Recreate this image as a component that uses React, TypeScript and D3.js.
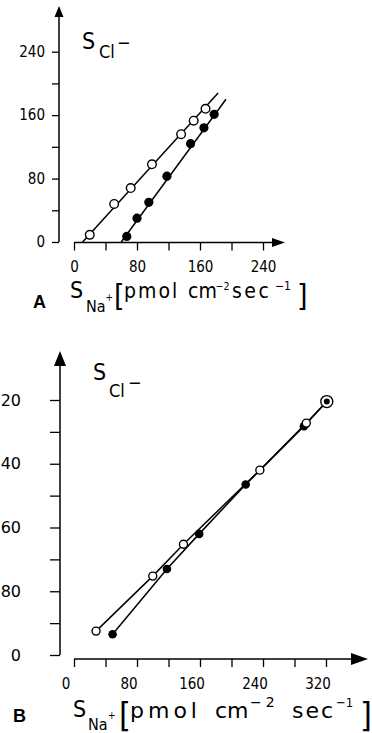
import React, { useEffect, useRef } from 'react';
import * as d3 from 'd3';

// Panel A: S_Cl- vs S_Na+ (regression lines)
const aOpenX = [20, 51, 72, 99, 136, 152, 167];
const aOpenY = [9, 48, 68, 98, 136, 153, 168];
const aFilledX = [67, 80, 95, 118, 148, 165, 178];
const aFilledY = [7, 30, 50, 83, 124, 144, 161];
const aOpenFitX = [11, 183];
const aOpenFitY = [0, 188];
const aFilledFitX = [60, 193];
const aFilledFitY = [0, 180];
const aTicks = [0, 40, 80, 120, 160, 200, 240];
const aLabels = [0, 80, 160, 240];

// Panel B: connected points
const bOpenX = [28, 100, 139, 236, 295, 321];
const bOpenY = [30, 99, 139, 232, 291, 318];
const bFilledX = [49, 118, 159, 218, 292, 321];
const bFilledY = [26, 108, 152, 214, 287, 318];
const bTicks = [0, 40, 80, 120, 160, 200, 240, 280, 320];
const bLabels = [0, 80, 160, 240, 320];

const FONT = '"DejaVu Sans Condensed", "DejaVu Sans", sans-serif';
const WIDE = '"DejaVu Sans", sans-serif';

type Pt = [number, number];
const zip = (xs: number[], ys: number[]): Pt[] => xs.map((x, i) => [x, ys[i]]);

const App: React.FC = () => {
  const ref = useRef<SVGSVGElement>(null);

  useEffect(() => {
    if (!ref.current) return;
    const svg = d3.select(ref.current);
    svg.selectAll('*').remove();

    svg.append('rect').attr('width', 372).attr('height', 733).attr('fill', '#fff');

    const txt = (x: number, y: number, s: string, size: number, extra: Record<string, any> = {}) => {
      const t = svg.append('text')
        .attr('x', x).attr('y', y)
        .attr('font-family', FONT)
        .attr('font-size', size)
        .attr('fill', '#000')
        .text(s);
      Object.entries(extra).forEach(([k, v]) => t.attr(k, v));
      return t;
    };

    // ---------- Panel A ----------
    const xA = d3.scaleLinear().domain([0, 240]).range([74, 263]);
    const yA = d3.scaleLinear().domain([0, 240]).range([242, 51.7]);

    // y axis
    const gyA = svg.append('g').attr('transform', 'translate(59,0)')
      .call(d3.axisLeft(yA).tickValues(aTicks).tickSize(7).tickPadding(7)
        .tickFormat((d) => (aLabels.includes(+d) ? String(d) : '')));
    gyA.select('.domain').remove();
    svg.append('line').attr('x1', 59).attr('x2', 59).attr('y1', 242).attr('y2', 15)
      .attr('stroke', '#000').attr('stroke-width', 1.5);
    svg.append('path').attr('d', 'M59,6 L54.5,17 L63.5,17 Z').attr('fill', '#000');

    // x axis
    const gxA = svg.append('g').attr('transform', 'translate(0,242.5)')
      .call(d3.axisBottom(xA).tickValues(aTicks).tickSize(8).tickPadding(11)
        .tickFormat((d) => (aLabels.includes(+d) ? String(d) : '')));
    gxA.select('.domain').remove();
    svg.append('line').attr('x1', 74).attr('x2', 274).attr('y1', 242.5).attr('y2', 242.5)
      .attr('stroke', '#000').attr('stroke-width', 1.5);
    svg.append('path').attr('d', 'M285,242.5 L272,238 L272,247 Z').attr('fill', '#000');

    [gyA, gxA].forEach((g) => {
      g.selectAll('line').attr('stroke', '#000').attr('stroke-width', 1.3);
      g.selectAll('text').attr('font-family', FONT).attr('font-size', 15).attr('fill', '#000');
    });

    const lineA = d3.line<Pt>().x((d) => xA(d[0])).y((d) => yA(d[1]));
    [zip(aOpenFitX, aOpenFitY), zip(aFilledFitX, aFilledFitY)].forEach((pts) => {
      svg.append('path').attr('d', lineA(pts)).attr('fill', 'none')
        .attr('stroke', '#000').attr('stroke-width', 1.5);
    });
    svg.append('g').selectAll('circle').data(zip(aOpenX, aOpenY)).enter().append('circle')
      .attr('cx', (d) => xA(d[0])).attr('cy', (d) => yA(d[1])).attr('r', 4.3)
      .attr('fill', '#fff').attr('stroke', '#000').attr('stroke-width', 1.4);
    svg.append('g').selectAll('circle').data(zip(aFilledX, aFilledY)).enter().append('circle')
      .attr('cx', (d) => xA(d[0])).attr('cy', (d) => yA(d[1])).attr('r', 4.6)
      .attr('fill', '#000');

    // labels A
    txt(82, 49, 'S', 23);
    txt(99, 58, 'Cl', 18);
    txt(117, 49, '\u2212', 18);

    txt(33, 308, 'A', 18, { 'font-weight': 'bold', 'font-family': '"Liberation Sans", Arial, sans-serif' });
    txt(70, 298, 'S', 23);
    txt(86, 312, 'Na', 16);
    txt(105.5, 301, '+', 10);
    txt(114, 306, '[', 30);
    txt(124, 298, 'pmol', 21, { 'letter-spacing': 2 });
    txt(188, 298, 'cm', 21);
    txt(215.5, 290, '\u22122', 10.5);
    txt(232, 298, 'sec', 21, { 'letter-spacing': 2.5 });
    txt(275, 290, '\u22121', 12);
    txt(297, 306, ']', 30);

    // ---------- Panel B ----------
    const xB = d3.scaleLinear().domain([0, 320]).range([74, 326]);
    const yB = d3.scaleLinear().domain([0, 320]).range([655, 400]);

    const gyB = svg.append('g').attr('transform', 'translate(60,0)')
      .call(d3.axisLeft(yB).tickValues(bTicks).tickSize(10).tickPadding(29)
        .tickFormat((d) => (bLabels.includes(+d) ? String(d) : '')));
    gyB.select('.domain').remove();
    svg.append('line').attr('x1', 60).attr('x2', 60).attr('y1', 655).attr('y2', 364)
      .attr('stroke', '#000').attr('stroke-width', 1.5);
    svg.append('path').attr('d', 'M60,351 L54,366 L66,366 Z').attr('fill', '#000');

    const gxB = svg.append('g').attr('transform', 'translate(0,659)')
      .call(d3.axisBottom(xB).tickValues(bTicks).tickSize(8).tickPadding(11)
        .tickFormat((d) => (bLabels.includes(+d) ? String(d) : '')));
    gxB.select('.domain').remove();
    gxB.selectAll('text').attr('dx', -8.5);
    svg.append('line').attr('x1', 74).attr('x2', 352).attr('y1', 659).attr('y2', 659)
      .attr('stroke', '#000').attr('stroke-width', 1.5);
    svg.append('path').attr('d', 'M368,659 L351,653 L351,665 Z').attr('fill', '#000');

    gyB.selectAll('line').attr('stroke', '#000').attr('stroke-width', 1.3);
    gyB.selectAll('text').attr('font-family', WIDE).attr('font-size', 16).attr('fill', '#000');
    gxB.selectAll('line').attr('stroke', '#000').attr('stroke-width', 1.3);
    gxB.selectAll('text').attr('font-family', FONT).attr('font-size', 15).attr('fill', '#000');

    const lineB = d3.line<Pt>().x((d) => xB(d[0])).y((d) => yB(d[1]));
    [zip(bOpenX, bOpenY), zip(bFilledX, bFilledY)].forEach((pts) => {
      svg.append('path').attr('d', lineB(pts)).attr('fill', 'none')
        .attr('stroke', '#000').attr('stroke-width', 1.5);
    });
    const last = bOpenX.length - 1;
    svg.append('g').selectAll('circle').data(zip(bFilledX, bFilledY).slice(0, last)).enter().append('circle')
      .attr('cx', (d) => xB(d[0])).attr('cy', (d) => yB(d[1])).attr('r', 4.3)
      .attr('fill', '#000');
    svg.append('g').selectAll('circle').data(zip(bOpenX, bOpenY).slice(0, last)).enter().append('circle')
      .attr('cx', (d) => xB(d[0])).attr('cy', (d) => yB(d[1])).attr('r', 4)
      .attr('fill', '#fff').attr('stroke', '#000').attr('stroke-width', 1.4);
    // coinciding last point: ring with dot
    svg.append('circle').attr('cx', xB(bOpenX[last])).attr('cy', yB(bOpenY[last])).attr('r', 6)
      .attr('fill', '#fff').attr('stroke', '#000').attr('stroke-width', 1.4);
    svg.append('circle').attr('cx', xB(bFilledX[last])).attr('cy', yB(bFilledY[last])).attr('r', 3)
      .attr('fill', '#000');

    // labels B
    txt(93, 380, 'S', 23);
    txt(109, 397, 'Cl', 18);
    txt(128, 389, '\u2212', 18);

    txt(13, 722, 'B', 18, { 'font-weight': 'bold', 'font-family': '"Liberation Sans", Arial, sans-serif' });
    txt(73, 717, 'S', 23);
    txt(88, 730, 'Na', 16);
    txt(108, 719, '+', 10);
    txt(119, 727, '[', 34);
    txt(130, 718, 'pmol', 22, { 'letter-spacing': 4, 'font-family': WIDE });
    txt(215, 718, 'cm', 22, { 'font-family': WIDE });
    txt(250, 707, '\u22122', 14, { 'letter-spacing': 4, 'font-family': WIDE });
    txt(292, 718, 'sec', 22, { 'letter-spacing': 2, 'font-family': WIDE });
    txt(336, 707, '\u22121', 13);
    txt(360, 727, ']', 34);
  }, []);

  return (
    <svg
      ref={ref}
      width={372}
      height={733}
      style={{ position: 'absolute', left: 0, top: 0, display: 'block' }}
    />
  );
};

export default App;
